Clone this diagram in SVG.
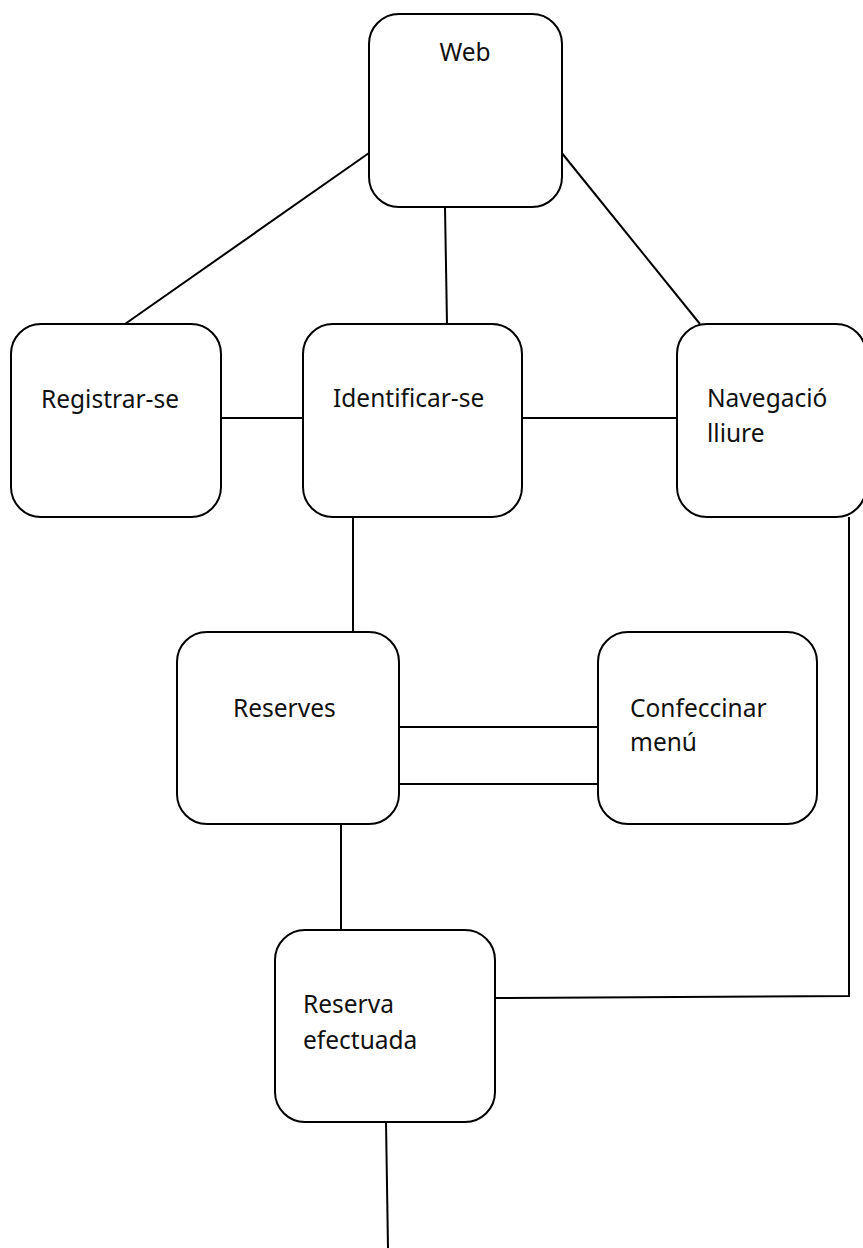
<svg xmlns="http://www.w3.org/2000/svg" width="863" height="1248" viewBox="0 0 863 1248">
  <style>
    .box { fill: #ffffff; stroke: #000000; stroke-width: 2; }
    .wire { fill: none; stroke: #000000; stroke-width: 2; }
    .lbl { font-family: "Noto Sans", "Open Sans", sans-serif; font-size: 24.5px; fill: #111111; }
  </style>
  <rect width="863" height="1248" fill="#ffffff"/>

  <!-- connectors -->
  <g id="connectors">
    <line class="wire" x1="369" y1="153" x2="125" y2="324"/>
    <line class="wire" x1="445" y1="207" x2="447" y2="324"/>
    <line class="wire" x1="561" y1="152" x2="700" y2="324"/>
    <line class="wire" x1="221" y1="418" x2="303" y2="418"/>
    <line class="wire" x1="522" y1="418" x2="677" y2="418"/>
    <line class="wire" x1="353" y1="517" x2="353" y2="632"/>
    <line class="wire" x1="399" y1="727" x2="598" y2="727"/>
    <line class="wire" x1="399" y1="784" x2="598" y2="784"/>
    <line class="wire" x1="341" y1="824" x2="341" y2="930"/>
    <polyline class="wire" points="849,517 849,996 495,998"/>
    <line class="wire" x1="386" y1="1122" x2="388" y2="1248"/>
  </g>

  <g id="web">
    <rect class="box" x="369" y="14" width="193" height="193" rx="30" ry="30"/>
    <text class="lbl" x="465" y="61" text-anchor="middle">Web</text>
  </g>

  <g id="registrar">
    <rect class="box" x="11" y="324" width="210" height="193" rx="30" ry="30"/>
    <text class="lbl" x="41" y="408">Registrar-se</text>
  </g>

  <g id="identificar">
    <rect class="box" x="303" y="324" width="219" height="193" rx="30" ry="30"/>
    <text class="lbl" x="333" y="407">Identificar-se</text>
  </g>

  <g id="navegacio">
    <rect class="box" x="677" y="324" width="189" height="193" rx="30" ry="30"/>
    <text class="lbl" x="707" y="407">Navegació</text>
    <text class="lbl" x="707" y="442">lliure</text>
  </g>

  <g id="reserves">
    <rect class="box" x="177" y="632" width="222" height="192" rx="30" ry="30"/>
    <text class="lbl" x="233" y="717">Reserves</text>
  </g>

  <g id="confeccinar">
    <rect class="box" x="598" y="632" width="219" height="192" rx="30" ry="30"/>
    <text class="lbl" x="630" y="717">Confeccinar</text>
    <text class="lbl" x="630" y="751">menú</text>
  </g>

  <g id="reserva-efectuada">
    <rect class="box" x="275" y="930" width="220" height="192" rx="30" ry="30"/>
    <text class="lbl" x="303" y="1013">Reserva</text>
    <text class="lbl" x="303" y="1049">efectuada</text>
  </g>
</svg>
